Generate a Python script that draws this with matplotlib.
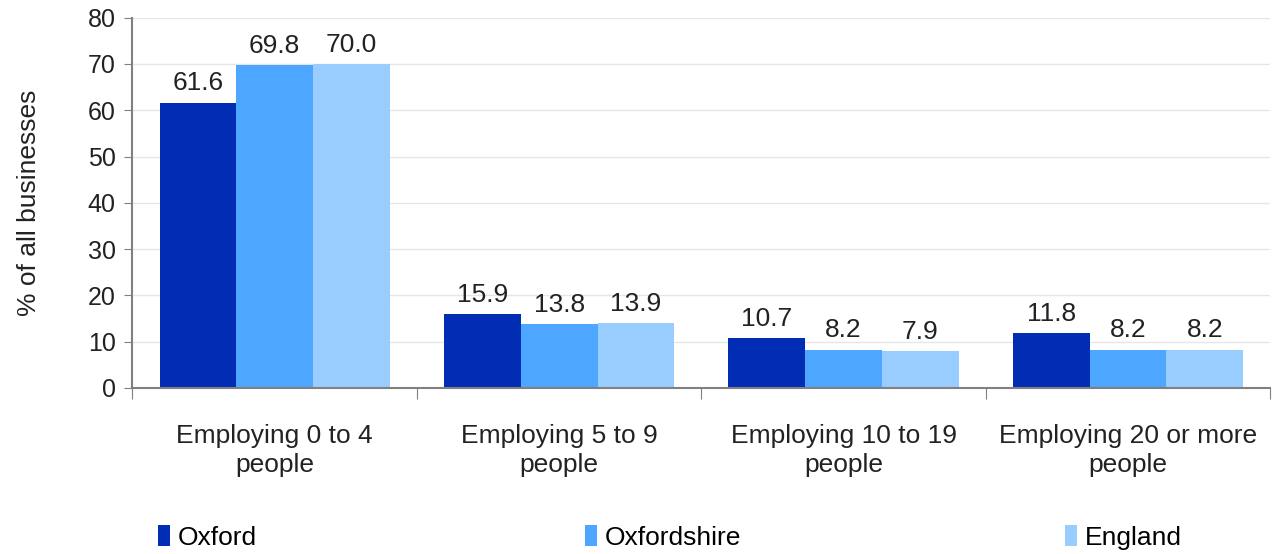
import matplotlib
matplotlib.use("Agg")
import matplotlib.pyplot as plt
from matplotlib.patches import Patch
import numpy as np

plt.rcParams["font.family"] = ["Liberation Sans", "DejaVu Sans"]

categories = [
    "Employing 0 to 4\npeople",
    "Employing 5 to 9\npeople",
    "Employing 10 to 19\npeople",
    "Employing 20 or more\npeople",
]
series_names = ["Oxford", "Oxfordshire", "England"]
oxford = [61.6, 15.9, 10.7, 11.8]
oxfordshire = [69.8, 13.8, 8.2, 8.2]
england = [70.0, 13.9, 7.9, 8.2]
colors = ["#002DB3", "#4DA6FF", "#99CCFF"]

FS = 19
TEXT = "#222222"

fig = plt.figure(figsize=(12.74, 5.54), dpi=100)
ax = fig.add_axes([0.104, 0.300, 0.893, 0.668])

x = np.arange(len(categories))
width = 0.27
for i, (vals, color) in enumerate(zip([oxford, oxfordshire, england], colors)):
    pos = x + (i - 1) * width
    ax.bar(pos, vals, width=width, color=color, zorder=2)
    for p, v in zip(pos, vals):
        ax.text(p, v + 1.6, f"{v:.1f}", ha="center", va="bottom",
                fontsize=FS, color=TEXT)

ax.set_xlim(-0.5, len(categories) - 0.5)
ax.set_ylim(0, 80)
ax.set_yticks(range(0, 81, 10))
ax.tick_params(axis="y", labelsize=18, length=6, pad=6, color="#808080", labelcolor=TEXT)
ax.yaxis.grid(True, color="#e6e6e6", linewidth=1, zorder=0)

# category boundaries get the tick marks, names sit between them
ax.set_xticks(np.arange(-0.5, len(categories), 1.0))
ax.set_xticklabels([])
ax.set_xticks(x, minor=True)
ax.set_xticklabels(categories, minor=True, fontsize=FS, color=TEXT, linespacing=1.25)
ax.tick_params(axis="x", which="major", length=8, color="#808080")
ax.tick_params(axis="x", which="minor", length=0, pad=26)

for side in ["top", "right"]:
    ax.spines[side].set_visible(False)
for side in ["left", "bottom"]:
    ax.spines[side].set_color("#808080")
    ax.spines[side].set_linewidth(1.5)

ax.set_ylabel("% of all businesses", fontsize=FS, color=TEXT, labelpad=34)

legend_x = [0.124, 0.459, 0.836]
for lx, c, n in zip(legend_x, colors, series_names):
    fig.legend(handles=[Patch(facecolor=c, label=n)], loc="center left",
               bbox_to_anchor=(lx, 0.030), frameon=False, fontsize=FS,
               handlelength=0.45, handleheight=0.85, handletextpad=0.3,
               borderpad=0, borderaxespad=0)

fig.savefig("out.png", dpi=100)
